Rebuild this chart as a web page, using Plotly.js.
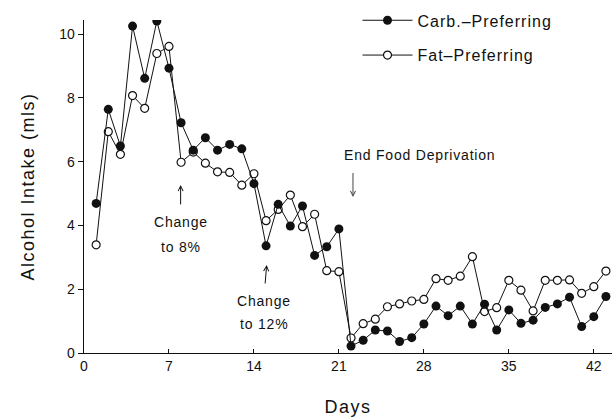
<!DOCTYPE html>
<html>
<head>
<meta charset="utf-8">
<script src="https://cdn.plot.ly/plotly-3.0.1.min.js"></script>
<style>
html, body { margin: 0; padding: 0; background: #fff; }
#chart { width: 614px; height: 417px; }
.legendtext { letter-spacing: 1px; }
.annotation-text { letter-spacing: 0.8px; }
.xtitle, .ytitle { letter-spacing: 1.5px; }
</style>
</head>
<body>
<div id="chart"></div>
<script>
// Days 1..43
const days = [1,2,3,4,5,6,7,8,9,10,11,12,13,14,15,16,17,18,19,20,21,22,23,24,25,26,27,28,29,30,31,32,33,34,35,36,37,38,39,40,41,42,43];
const carbPreferring = [4.69,7.64,6.49,10.25,8.61,10.41,8.93,7.22,6.36,6.75,6.36,6.54,6.40,5.31,3.36,4.66,3.98,4.61,3.06,3.33,3.89,0.22,0.40,0.72,0.69,0.36,0.48,0.91,1.47,1.17,1.47,0.91,1.53,0.72,1.35,0.93,1.03,1.43,1.54,1.75,0.83,1.14,1.77];
const fatPreferring = [3.39,6.94,6.23,8.07,7.67,9.39,9.61,5.98,6.30,5.95,5.68,5.66,5.26,5.62,4.15,4.50,4.95,3.96,4.35,2.58,2.55,0.47,0.92,1.06,1.45,1.54,1.63,1.68,2.33,2.28,2.41,3.02,1.30,1.42,2.28,1.97,1.32,2.28,2.28,2.29,1.87,2.08,2.57];
const xTicks = [0,7,14,21,28,35,42];
const yTicks = [0,2,4,6,8,10];

const FONT = "Liberation Sans, Arial, sans-serif";
const INK = "#111";

const fatTrace = {
  x: days, y: fatPreferring, type: "scatter", mode: "lines+markers",
  name: "Fat\u2013Preferring", legendgroup: "fat", legendrank: 2,
  line: { color: INK, width: 1 },
  marker: { symbol: "circle", size: 8, color: "#fff", line: { color: INK, width: 1.2 } }
};
const carbTrace = {
  x: days, y: carbPreferring, type: "scatter", mode: "lines+markers",
  name: "Carb.\u2013Preferring", legendgroup: "carb", legendrank: 1,
  line: { color: INK, width: 1 },
  marker: { symbol: "circle", size: 9, color: INK, line: { color: INK, width: 0 } }
};

const annFont = { family: FONT, size: 14, color: INK };
const layout = {
  width: 614, height: 417,
  margin: { l: 84, r: 2, t: 20, b: 64, autoexpand: false },
  paper_bgcolor: "#fff", plot_bgcolor: "#fff",
  font: { family: FONT, size: 14, color: INK },
  showlegend: true,
  legend: {
    x: 0.518, y: 1.05, xanchor: "left", yanchor: "top",
    bgcolor: "rgba(0,0,0,0)", borderwidth: 0,
    font: { family: FONT, size: 16, color: INK },
    traceorder: "grouped", tracegroupgap: 11, itemwidth: 50
  },
  xaxis: {
    range: [0, 43.5], tickvals: xTicks, ticktext: xTicks.map(String),
    ticks: "inside", ticklen: 4, tickcolor: INK, tickwidth: 1,
    showline: true, linecolor: INK, linewidth: 1.3, showgrid: false, zeroline: false,
    tickfont: { family: FONT, size: 14, color: INK },
    title: { text: "Days", font: { family: FONT, size: 18, color: INK }, standoff: 28 }
  },
  yaxis: {
    range: [0, 10.44], tickvals: yTicks, ticktext: yTicks.map(String),
    ticks: "outside", ticklen: 5, tickcolor: INK, tickwidth: 1,
    showline: true, linecolor: INK, linewidth: 1.3, showgrid: false, zeroline: false,
    tickfont: { family: FONT, size: 14, color: INK },
    title: { text: "Alcohol Intake (mls)", font: { family: FONT, size: 18, color: INK }, standoff: 20 }
  },
  annotations: [
    { x: 7.96, y: 5.27, xref: "x", yref: "y", text: "Change", font: annFont,
      showarrow: true, ax: 0, ay: 37, arrowhead: 5, arrowsize: 1, arrowwidth: 1, arrowcolor: INK, startstandoff: 8 },
    { x: 7.96, y: 3.32, xref: "x", yref: "y", text: "to 8%", font: annFont, showarrow: false },
    { x: 15.05, y: 2.76, xref: "x", yref: "y", text: "Change", font: annFont,
      showarrow: true, ax: -3, ay: 36, arrowhead: 5, arrowsize: 1, arrowwidth: 1, arrowcolor: INK, startstandoff: 8 },
    { x: 14.83, y: 0.91, xref: "x", yref: "y", text: "to 12%", font: annFont, showarrow: false },
    { x: 27.68, y: 6.21, xref: "x", yref: "y", text: "End Food Deprivation", font: annFont, showarrow: false },
    { x: 22.16, y: 4.89, xref: "x", yref: "y", text: " ", font: { size: 1 },
      showarrow: true, ax: 0, ay: -26, arrowhead: 5, arrowsize: 1, arrowwidth: 1, arrowcolor: "#444" }
  ]
};

Plotly.newPlot("chart", [fatTrace, carbTrace], layout, { displayModeBar: false, staticPlot: true });
</script>
</body>
</html>
